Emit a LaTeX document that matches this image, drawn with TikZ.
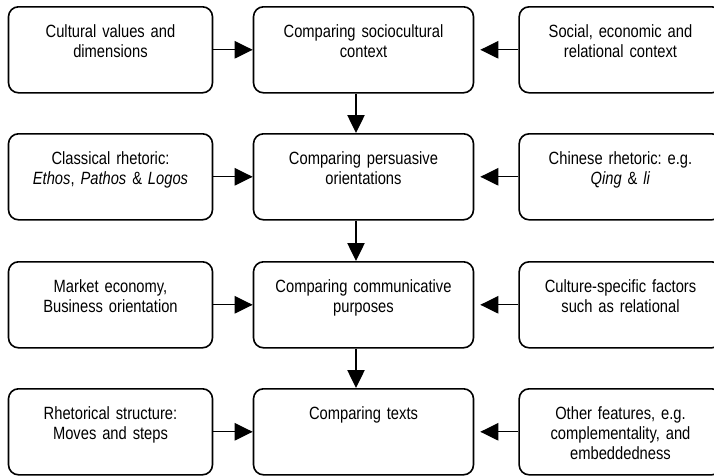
\documentclass[tikz,border=0pt]{standalone}
\usepackage{fontspec}
\setmainfont{Liberation Sans}[FakeStretch=0.83]
\usepackage{tikz}
\usetikzlibrary{arrows.meta, calc, positioning}
\frenchspacing

\begin{document}
\begin{tikzpicture}[x=0.75pt, y=-0.75pt,
        stage/.style={draw, line width=1.2pt, rounded corners=7.5pt, anchor=north,
            align=center, inner xsep=4pt, inner ysep=0pt, text height=23pt, text depth=41.5pt,
            font=\fontsize{13.3pt}{15pt}\selectfont},
        flow/.style={line width=1pt, -{Triangle[length=13.5pt, width=13pt]}}]
        \useasboundingbox (0,0) rectangle (714,475);

        % left column
        \node[stage, text width=145pt] (L1) at (110.5,6) {Cultural values and\\dimensions};
        \node[stage, text width=145pt] (L2) at (110.5,133) {Classical rhetoric:\\\textit{Ethos}, \textit{Pathos} \& \textit{Logos}};
        \node[stage, text width=145pt] (L3) at (110.5,261) {Market economy,\\Business orientation};
        \node[stage, text width=145pt] (L4) at (110.5,388) {Rhetorical structure:\\Moves and steps};

        % middle column
        \node[stage, text width=157pt] (M1) at (363.5,6) {Comparing sociocultural\\context};
        \node[stage, text width=157pt] (M2) at (363.5,133) {Comparing persuasive\\orientations};
        \node[stage, text width=157pt] (M3) at (363.5,261) {Comparing communicative\\purposes};
        \node[stage, text width=157pt] (M4) at (363.5,388) {Comparing texts};

        % right column
        \node[stage, text width=144pt] (R1) at (620.5,6) {Social, economic and\\relational context};
        \node[stage, text width=144pt] (R2) at (620.5,133) {Chinese rhetoric: e.g.\\\textit{Qing} \& \textit{li}};
        \node[stage, text width=144pt] (R3) at (620.5,261) {Culture-specific factors\\such as relational};
        \node[stage, text width=144pt] (R4) at (620.5,388) {Other features, e.g.\\complementality, and\\embeddedness};

        \draw [flow] (L1) -- (M1);
        \draw [flow] (L2) -- (M2);
        \draw [flow] (L3) -- (M3);
        \draw [flow] (L4) -- (M4);
        \draw [flow, shorten >=4.5pt] (R1) -- (M1);
        \draw [flow, shorten >=4.5pt] (R2) -- (M2);
        \draw [flow, shorten >=4.5pt] (R3) -- (M3);
        \draw [flow, shorten >=4.5pt] (R4) -- (M4);
        \draw [flow] ($(M1.south)+(-7.5,0)$) -- ($(M2.north)+(-7.5,0)$);
        \draw [flow] ($(M2.south)+(-7.5,0)$) -- ($(M3.north)+(-7.5,0)$);
        \draw [flow] ($(M3.south)+(-7.5,0)$) -- ($(M4.north)+(-7.5,0)$);
    \end{tikzpicture}
\end{document}
